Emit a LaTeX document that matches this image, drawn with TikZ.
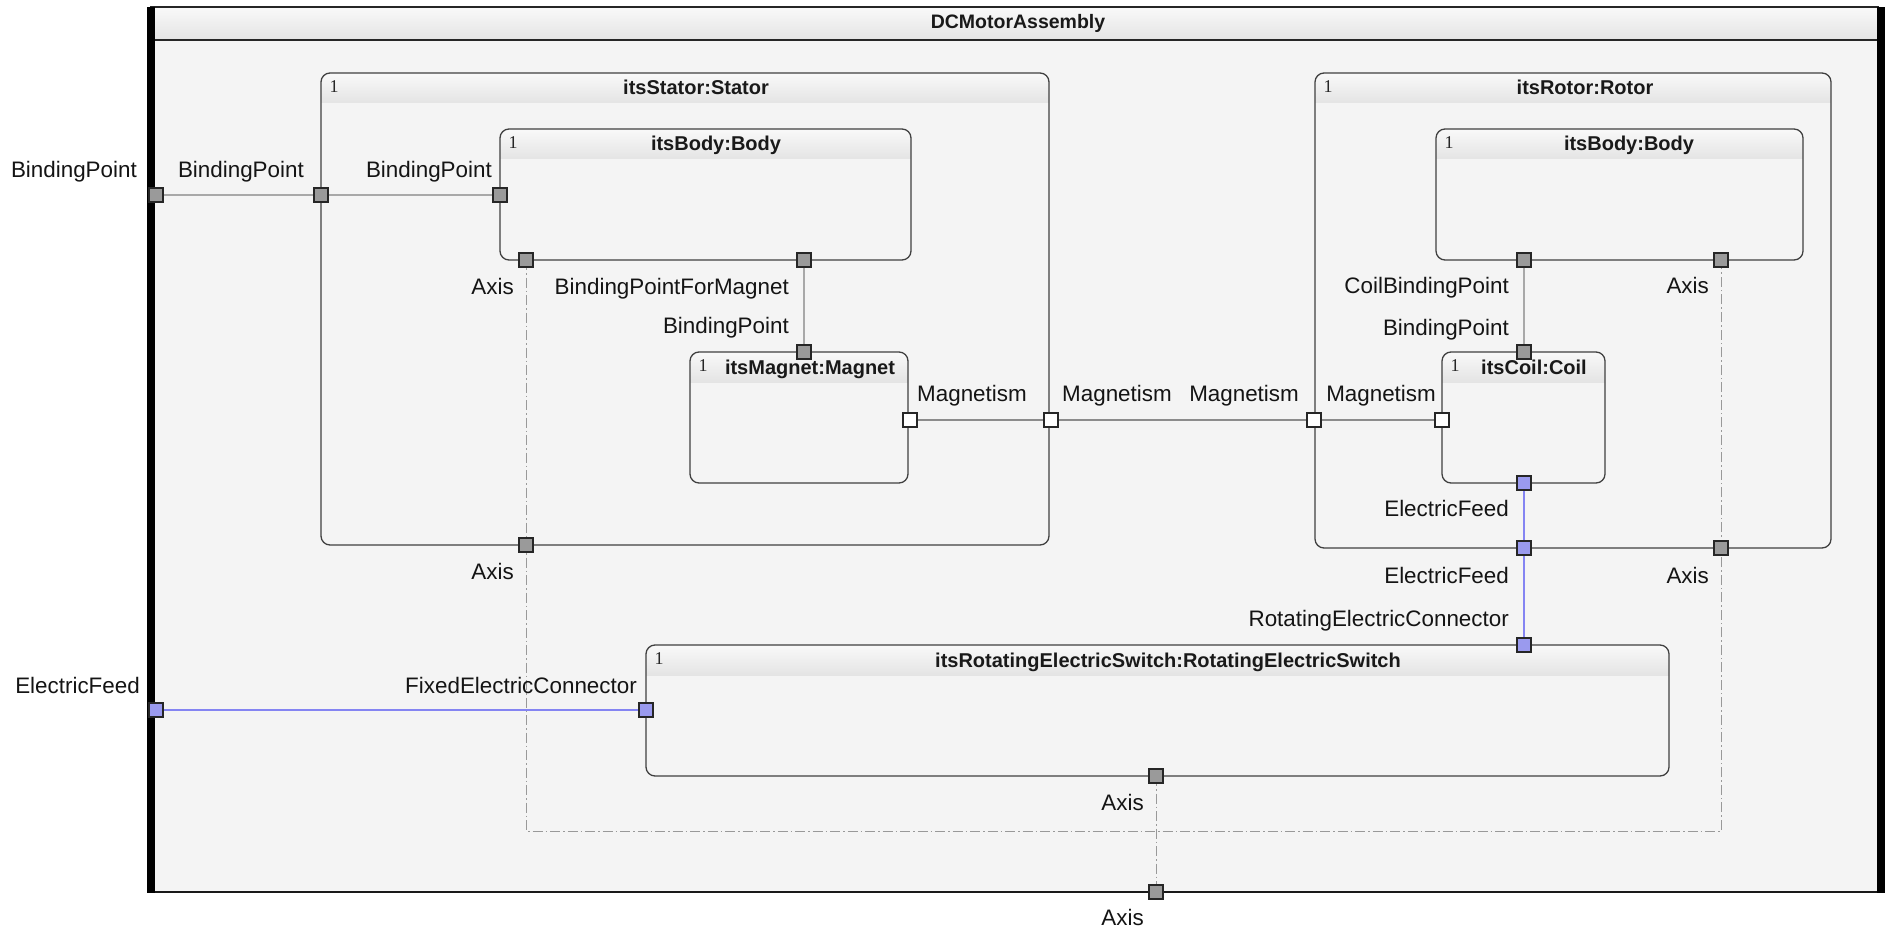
\documentclass[tikz,border=0pt]{standalone}
\usepackage{fontspec}
\setmainfont{Liberation Sans}
\newfontfamily\multfont{Liberation Serif}
\definecolor{bgfill}{HTML}{F4F4F4}
\definecolor{hdrtop}{HTML}{F9F9F9}
\definecolor{hdrbot}{HTML}{E4E4E4}
\definecolor{portgray}{HTML}{9A9A9A}
\definecolor{portblue}{HTML}{9A9AEE}
\definecolor{wiregray}{HTML}{A8A8A8}
\definecolor{wireblue}{HTML}{8484F2}
\pgfdeclarelayer{back}
\pgfdeclarelayer{wires}
\pgfsetlayers{back,wires,main}

% part box: name, x1, y1, x2, y2, title, title centre x
\newcommand\partbox[7]{%
  \fill[bgfill, rounded corners=9pt] (#2,#3) rectangle (#4,#5);
  \begin{scope}
    \clip[rounded corners=9pt] (#2,#3) rectangle (#4,#5);
    \shade[top color=hdrtop, bottom color=hdrbot] (#2,#3) rectangle (#4,{#3+30});
  \end{scope}
  \node[partframe, anchor=north west, minimum width={#4-#2}, minimum height={#5-#3}] (#1) at (#2,#3) {};
  \node[mult] (#1-m) at ({#2+13},{#3+14}) {1};
  \node[ptitle] (#1-t) at (#7,{#3+22}) {#6};
}

\begin{document}
\begin{tikzpicture}[x=1pt,y=-1pt,
  port/.style={rectangle, draw=black!85, line width=2pt, minimum size=14pt,
    inner sep=0pt, outer sep=0pt, fill=portgray},
  mport/.style={port, fill=white},
  eport/.style={port, fill=portblue},
  lbl/.style={font=\fontsize{22.4}{24}\selectfont, text=black!92, inner sep=0pt, anchor=base east},
  lblw/.style={lbl, anchor=base west},
  ptitle/.style={font=\fontsize{20}{22}\selectfont\bfseries, text=black!90, inner sep=0pt, anchor=base},
  mult/.style={font=\multfont\fontsize{18}{20}\selectfont, text=black!85, inner sep=0pt},
  partframe/.style={draw=black!75, line width=1.3pt, rounded corners=9pt, inner sep=0pt, outer sep=0pt},
  bindwire/.style={draw=wiregray, line width=2.6pt},
  magwire/.style={draw=black!45, line width=2.2pt},
  elwire/.style={draw=wireblue, line width=2pt},
  axwire/.style={draw=black!40, line width=1pt, dash pattern=on 10pt off 3pt on 1.5pt off 3pt},
]
\useasboundingbox (0,0) rectangle (1885,928);

\begin{pgfonlayer}{back}
  % assembly frame
  \fill[bgfill] (150,7) rectangle (1881,892);
  \shade[top color=hdrtop, bottom color=hdrbot] (150,7) rectangle (1881,40);
  \node[anchor=north west, minimum width=1731, minimum height=885, inner sep=0pt, outer sep=0pt] (frame) at (150,7) {};
  \draw[line width=2pt, black!85] (150,7) -- (1879,7);
  \draw[line width=2pt, black!85] (150,40) -- (1879,40);
  \draw[line width=2.5pt, black!90] (150,892) -- (1879,892);
  \fill[black] (147,7) rectangle (155,893);
  \fill[black] (1877,7) rectangle (1885,893);
  \node[ptitle, font=\fontsize{19.5}{21}\selectfont\bfseries] (frame-t) at (1018,29) {DCMotorAssembly};

  % parts
  \partbox{stator}{321}{73}{1049}{545}{itsStator:Stator}{696}
  \partbox{sbody}{500}{129}{911}{260}{itsBody:Body}{716}
  \partbox{magnet}{690}{352}{908}{483}{itsMagnet:Magnet}{810}
  \partbox{rotor}{1315}{73}{1831}{548}{itsRotor:Rotor}{1585}
  \partbox{rbody}{1436}{129}{1803}{260}{itsBody:Body}{1629}
  \partbox{coil}{1442}{352}{1605}{483}{itsCoil:Coil}{1534}
  \partbox{switch}{646}{645}{1669}{776}{itsRotatingElectricSwitch:RotatingElectricSwitch}{1168}
\end{pgfonlayer}

% ports
\node[port]  (fBP)    at (156,195) {};
\node[eport] (fEF)    at (156,710) {};
\node[port]  (fAxis)  at (1156,892) {};
\node[port]  (sBP)    at (321,195) {};
\node[mport] (sMag)   at (1051,420) {};
\node[port]  (sAxis)  at (526,545) {};
\node[port]  (bBP)    at (500,195) {};
\node[port]  (bAxis)  at (526,260) {};
\node[port]  (bBPM)   at (804,260) {};
\node[port]  (mBP)    at (804,352) {};
\node[mport] (mMag)   at (910,420) {};
\node[mport] (rMag)   at (1314,420) {};
\node[eport] (rEF)    at (1524,548) {};
\node[port]  (rAxis)  at (1721,548) {};
\node[port]  (rbCBP)  at (1524,260) {};
\node[port]  (rbAxis) at (1721,260) {};
\node[port]  (cBP)    at (1524,352) {};
\node[mport] (cMag)   at (1442,420) {};
\node[eport] (cEF)    at (1524,483) {};
\node[eport] (swFEC)  at (646,710) {};
\node[eport] (swREC)  at (1524,645) {};
\node[port]  (swAxis) at (1156,776) {};
\coordinate (axL) at (526,831);
\coordinate (axR) at (1721,831);

% connectors
\begin{pgfonlayer}{wires}
  \draw[bindwire] (fBP.center) -- (sBP.center) -- (bBP.center);
  \draw[bindwire] (bBPM.center) -- (mBP.center);
  \draw[bindwire] (rbCBP.center) -- (cBP.center);
  \draw[magwire] (mMag.center) -- (sMag.center) -- (rMag.center) -- (cMag.center);
  \draw[elwire] (fEF.center) -- (swFEC.center);
  \draw[elwire, line width=1.6pt] (cEF.center) -- (rEF.center) -- (swREC.center);
  \draw[axwire] (bAxis.center) -- (sAxis.center) -- (axL) -- (axR) -- (rAxis.center) -- (rbAxis.center);
  \draw[axwire] (swAxis.center) -- (fAxis.center);
\end{pgfonlayer}

% port labels
\node[lbl]  (l1)  at (137,178) {BindingPoint};
\node[lbl]  (l2)  at (304,178) {BindingPoint};
\node[lbl]  (l3)  at (492,178) {BindingPoint};
\node[lbl]  (l4)  at (514,294) {Axis};
\node[lbl]  (l5)  at (789,294) {BindingPointForMagnet};
\node[lbl]  (l6)  at (789,333) {BindingPoint};
\node[lblw] (l7)  at (917,401) {Magnetism};
\node[lblw] (l8)  at (1062,401) {Magnetism};
\node[lbl]  (l9)  at (1299,401) {Magnetism};
\node[lbl]  (l10) at (1436,401) {Magnetism};
\node[lbl]  (l11) at (514,579) {Axis};
\node[lbl]  (l12) at (1509,293) {CoilBindingPoint};
\node[lbl]  (l13) at (1709,293) {Axis};
\node[lbl]  (l14) at (1509,335) {BindingPoint};
\node[lbl]  (l15) at (1509,516) {ElectricFeed};
\node[lbl]  (l16) at (1509,583) {ElectricFeed};
\node[lbl]  (l17) at (1709,583) {Axis};
\node[lbl]  (l18) at (1509,626) {RotatingElectricConnector};
\node[lbl]  (l19) at (140,693) {ElectricFeed};
\node[lbl]  (l20) at (637,693) {FixedElectricConnector};
\node[lbl]  (l21) at (1144,810) {Axis};
\node[lbl]  (l22) at (1144,925) {Axis};
\end{tikzpicture}
\end{document}
